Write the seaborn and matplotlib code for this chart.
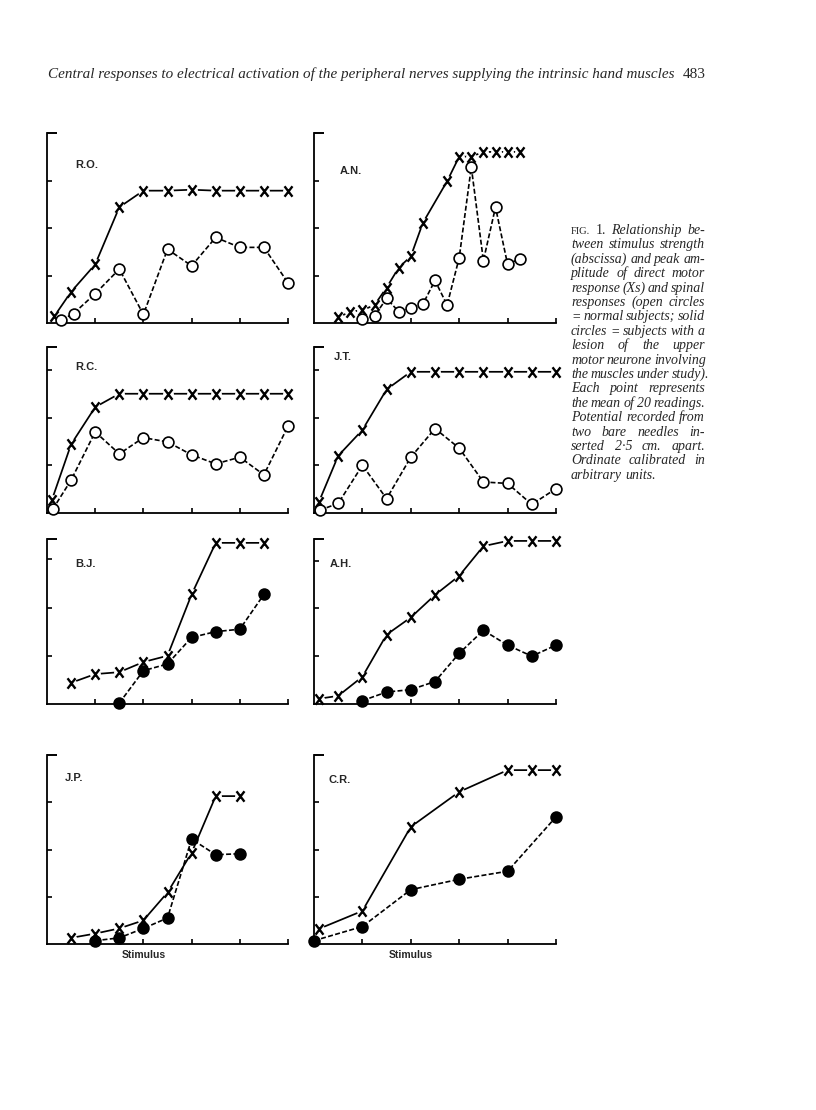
import matplotlib
matplotlib.use('Agg')

import matplotlib.pyplot as plt
import pandas as pd
import seaborn as sns
from matplotlib.path import Path

sns.set_theme(style="white")
plt.rcParams['font.family'] = ['Liberation Serif', 'DejaVu Serif']

# values (arbitrary units, stimulus in tick units)

# R.O. - normal subject
ro_mx = [0.15, 0.5, 1.0, 1.5, 2.0, 2.5, 3.0, 3.5, 4.0, 4.5, 5.0]
ro_my = [0.14, 0.66, 1.24, 2.45, 2.80, 2.80, 2.82, 2.80, 2.80, 2.80, 2.80]
ro_sx = [0.3, 0.55, 1.0, 1.5, 2.0, 2.5, 3.0, 3.5, 4.0, 4.5, 5.0]
ro_sy = [0.06, 0.20, 0.62, 1.14, 0.18, 1.56, 1.21, 1.81, 1.60, 1.60, 0.85]

# A.N. - normal subject
an_mx = [0.5, 0.75, 1.0, 1.25, 1.5, 1.75, 2.0, 2.25, 2.75, 3.0, 3.25, 3.5, 3.75, 4.0, 4.25]
an_my = [0.12, 0.24, 0.27, 0.38, 0.75, 1.17, 1.41, 2.12, 3.00, 3.52, 3.52, 3.62, 3.62, 3.62, 3.62]
an_sx = [1.0, 1.25, 1.5, 1.75, 2.0, 2.25, 2.5, 2.75, 3.0, 3.25, 3.5, 3.75, 4.0, 4.25]
an_sy = [0.08, 0.15, 0.52, 0.24, 0.31, 0.40, 0.90, 0.38, 1.38, 3.30, 1.32, 2.45, 1.24, 1.36]

# R.C. - normal subject
rc_mx = [0.1, 0.5, 1.0, 1.5, 2.0, 2.5, 3.0, 3.5, 4.0, 4.5, 5.0]
rc_my = [0.27, 1.44, 2.22, 2.50, 2.50, 2.50, 2.50, 2.50, 2.50, 2.50, 2.50]
rc_sx = [0.12, 0.5, 1.0, 1.5, 2.0, 2.5, 3.0, 3.5, 4.0, 4.5, 5.0]
rc_sy = [0.08, 0.69, 1.70, 1.24, 1.58, 1.49, 1.22, 1.03, 1.17, 0.80, 1.82]

# J.T. - normal subject
jt_mx = [0.1, 0.5, 1.0, 1.5, 2.0, 2.5, 3.0, 3.5, 4.0, 4.5, 5.0]
jt_my = [0.23, 1.20, 1.74, 2.59, 2.96, 2.96, 2.96, 2.96, 2.96, 2.96, 2.96]
jt_sx = [0.12, 0.5, 1.0, 1.5, 2.0, 2.5, 3.0, 3.5, 4.0, 4.5, 5.0]
jt_sy = [0.06, 0.20, 1.00, 0.30, 1.17, 1.77, 1.36, 0.65, 0.62, 0.18, 0.51]

# B.J. - upper motor neurone lesion
bj_mx = [0.5, 1.0, 1.5, 2.0, 2.5, 3.0, 3.5, 4.0, 4.5]
bj_my = [0.44, 0.62, 0.66, 0.87, 1.00, 2.27, 3.34, 3.34, 3.34]
bj_sx = [1.5, 2.0, 2.5, 3.0, 3.5, 4.0, 4.5]
bj_sy = [0.02, 0.69, 0.83, 1.38, 1.50, 1.55, 2.27]

# A.H. - upper motor neurone lesion
ah_mx = [0.1, 0.5, 1.0, 1.5, 2.0, 2.5, 3.0, 3.5, 4.0, 4.5, 5.0]
ah_my = [0.11, 0.17, 0.57, 1.45, 1.81, 2.28, 2.68, 3.30, 3.41, 3.41, 3.41]
ah_sx = [1.0, 1.5, 2.0, 2.5, 3.0, 3.5, 4.0, 4.5, 5.0]
ah_sy = [0.07, 0.25, 0.30, 0.47, 1.06, 1.54, 1.23, 1.00, 1.23]

# J.P. - upper motor neurone lesion
jp_mx = [0.5, 1.0, 1.5, 2.0, 2.5, 3.0, 3.5, 4.0]
jp_my = [0.13, 0.22, 0.33, 0.50, 1.09, 1.93, 3.13, 3.13]
jp_sx = [1.0, 1.5, 2.0, 2.5, 3.0, 3.5, 4.0]
jp_sy = [0.07, 0.13, 0.33, 0.55, 2.22, 1.89, 1.91]

# C.R. - upper motor neurone lesion
cr_mx = [0.1, 1.0, 2.0, 3.0, 4.0, 4.5, 5.0]
cr_my = [0.32, 0.70, 2.48, 3.22, 3.68, 3.68, 3.68]
cr_sx = [0.0, 1.0, 2.0, 3.0, 4.0, 5.0]
cr_sy = [0.07, 0.37, 1.15, 1.37, 1.54, 2.69]

subjects = ["R.O.", "A.N.", "R.C.", "J.T.", "B.J.", "A.H.", "J.P.", "C.R."]
motor = [(ro_mx, ro_my), (an_mx, an_my), (rc_mx, rc_my), (jt_mx, jt_my),
         (bj_mx, bj_my), (ah_mx, ah_my), (jp_mx, jp_my), (cr_mx, cr_my)]
spinal = [(ro_sx, ro_sy), (an_sx, an_sy), (rc_sx, rc_sy), (jt_sx, jt_sy),
          (bj_sx, bj_sy), (ah_sx, ah_sy), (jp_sx, jp_sy), (cr_sx, cr_sy)]
lesion = [False, False, False, False, True, True, True, True]
ordinate_top = [4.02, 4.02, 3.48, 3.48, 3.42, 3.45, 4.0, 4.0]

caption = [
    "tween stimulus strength",
    "(abscissa) and peak am-",
    "plitude of direct motor",
    "response (Xs) and spinal",
    "responses (open circles",
    "= normal subjects; solid",
    "circles = subjects with a",
    "lesion of the upper",
    "motor neurone involving",
    "the muscles under study).",
    "Each point represents",
    "the mean of 20 readings.",
    "Potential recorded from",
    "two bare needles in-",
    "serted 2\u00b75 cm. apart.",
    "Ordinate calibrated in",
    "arbitrary units.",
]

# layout (figure pixels 816 x 1110)
W, H = 816, 1110
cols = [(47, 241), (314, 242)]
rows = [(323, 190), (513, 166), (704, 165), (944, 189)]
label_pos = [(0.116, 0.83), (0.107, 0.80), (0.116, 0.88), (0.08, 0.94),
             (0.116, 0.85), (0.066, 0.85), (0.075, 0.88), (0.058, 0.87)]

# printed "X" symbol, a little taller than wide
x_mark = Path([(-0.38, -0.5), (0.38, 0.5), (-0.38, 0.5), (0.38, -0.5)],
              [Path.MOVETO, Path.LINETO, Path.MOVETO, Path.LINETO])

fig = plt.figure(figsize=(W / 100, H / 100), dpi=100)
fig.patch.set_facecolor('white')

sans = ['Liberation Sans', 'DejaVu Sans']

for i, name in enumerate(subjects):
    left, width = cols[i % 2]
    bottom, height = rows[i // 2]
    ax = fig.add_axes([left / W, 1 - bottom / H, width / W, height / H])
    ax.set_facecolor('white')

    mx, my = motor[i]
    sx, sy = spinal[i]
    mdf = pd.DataFrame({'stimulus': mx, 'amplitude': my})
    sdf = pd.DataFrame({'stimulus': sx, 'amplitude': sy})

    # direct motor response: solid line, X points
    sns.lineplot(data=mdf, x='stimulus', y='amplitude', ax=ax, color='black',
                 lw=1.25, estimator=None, sort=False, marker='o', ms=7,
                 mfc='white', mec='white', clip_on=False, zorder=2)
    sns.lineplot(data=mdf, x='stimulus', y='amplitude', ax=ax, color='black',
                 lw=0, estimator=None, sort=False, marker=x_mark,
                 ms=7.5, mfc='none', mec='black', mew=1.7, clip_on=False, zorder=3)

    # spinal response: dashed line, open or solid circles
    face = 'black' if lesion[i] else 'white'
    sns.lineplot(data=sdf, x='stimulus', y='amplitude', ax=ax, color='black',
                 lw=1.2, linestyle=(0, (3.0, 1.4)), estimator=None, sort=False,
                 marker='o', ms=7.8, mfc=face, mec='black', mew=1.2,
                 clip_on=False, zorder=4)

    ax.set_xlim(0, 5)
    ax.set_ylim(0, ordinate_top[i])
    ax.set_xticks([1, 2, 3, 4, 5])
    ax.set_yticks([1, 2, 3])
    ax.set_yticks([ordinate_top[i]], minor=True)
    ax.set_xticklabels([])
    ax.set_yticklabels([])
    ax.set_xlabel('')
    ax.set_ylabel('')
    ax.tick_params(which='major', direction='in', length=3.5, width=1.2,
                   color='black', bottom=True, left=True)
    ax.tick_params(axis='y', which='minor', direction='in', length=7,
                   width=1.4, color='black', left=True)
    ax.tick_params(axis='x', which='minor', bottom=False)
    sns.despine(ax=ax)
    for side in ('left', 'bottom'):
        ax.spines[side].set_color('black')
        ax.spines[side].set_linewidth(1.3)

    ax.text(label_pos[i][0], label_pos[i][1], name, transform=ax.transAxes,
            ha='left', va='center', fontsize=8, fontweight='bold', family=sans)

    if i >= 6:
        ax.annotate('Stimulus', xy=(2, 0), xycoords='data', xytext=(0, -11),
                    textcoords='offset pixels', ha='center', va='center',
                    fontsize=7.5, fontweight='bold', family=sans)

# running header
renderer = fig.canvas.get_renderer()
head = fig.text(48 / W, 1 - 78 / H,
                'Central responses to electrical activation of the peripheral '
                'nerves supplying the intrinsic hand muscles',
                ha='left', va='baseline', fontsize=11, fontstyle='italic')
hw = head.get_window_extent(renderer).width
head.set_fontsize(11 * 622 / hw)
fig.text(683 / W, 1 - 78 / H, '483', ha='left', va='baseline', fontsize=11)


def justify(words, x0, x1, y, stretch=True):
    texts = []
    for w, kw in words:
        texts.append(fig.text(0, 1 - y / H, w, ha='left', va='baseline', **kw))
    widths = [t.get_window_extent(renderer).width for t in texts]
    space = 3.2
    if stretch and len(texts) > 1:
        space = max(2.4, ((x1 - x0) - sum(widths)) / (len(texts) - 1))
    x = x0
    for t, w in zip(texts, widths):
        t.set_x(x / W)
        x += w + space


ital = dict(fontsize=10, fontstyle='italic')
cap_left, cap_right = 571, 705
first = [('FIG.', dict(fontsize=7.6)), ('1.', dict(fontsize=10)),
         ('Relationship', ital), ('be-', ital)]
justify(first, cap_left, cap_right, 234)
for k, line in enumerate(caption):
    words = [(w, ital) for w in line.split()]
    justify(words, cap_left, cap_right, 234 + 14.4 * (k + 1),
            stretch=(k < len(caption) - 1))

fig.savefig('out.png', dpi=100, facecolor='white')
